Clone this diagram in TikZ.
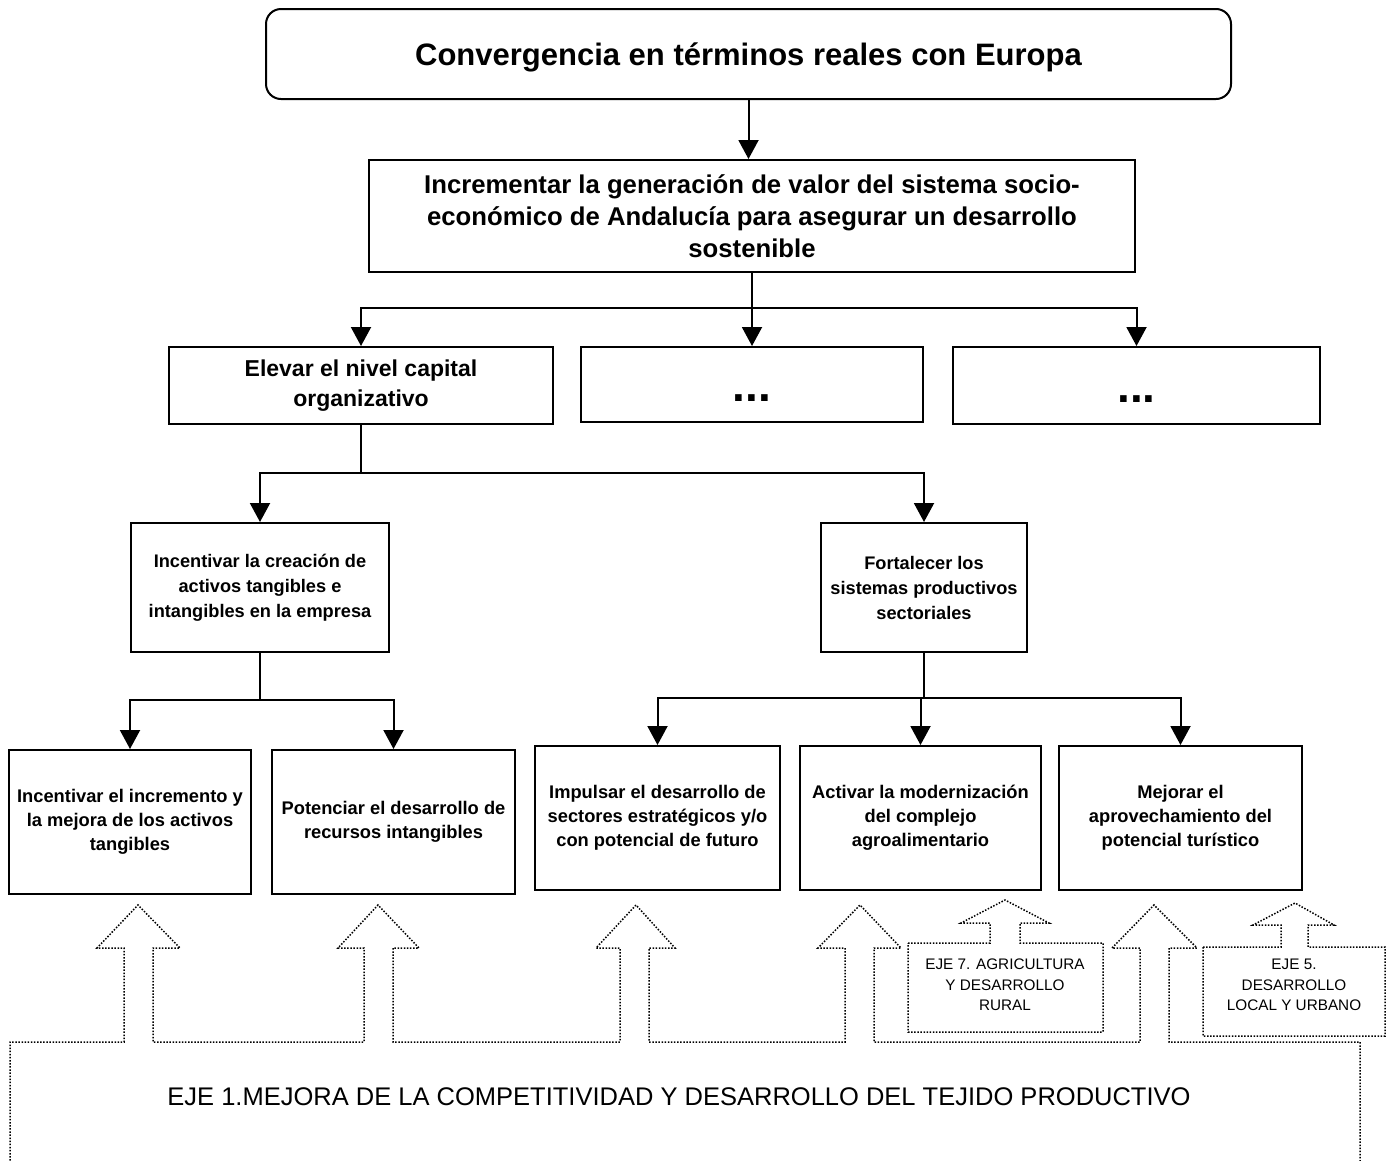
\documentclass[tikz,border=0pt]{standalone}
\usepackage{fontspec}
\setmainfont{Liberation Sans}
\usetikzlibrary{arrows.meta}
\begin{document}
\begin{tikzpicture}[x=1pt,y=-1pt,
  box/.style={draw, line width=2pt, inner sep=0pt, align=center},
  ln/.style={line width=2pt},
  arr/.style={line width=2pt, -{Triangle[width=20pt,length=19pt]}},
  dotline/.style={line width=1.5pt, dash pattern=on 1.5pt off 1.6pt},
  ftitle/.style={font=\bfseries\fontsize{31}{36}\selectfont},
  fbig/.style={font=\bfseries\fontsize{25.7}{32}\selectfont},
  fmid/.style={font=\bfseries\fontsize{23}{30}\selectfont},
  fsmall/.style={font=\bfseries\fontsize{18.2}{25}\selectfont},
  fbot/.style={font=\bfseries\fontsize{18.3}{24}\selectfont},
  feje/.style={font=\fontsize{15.3}{20.5}\selectfont, align=center},
  fdots/.style={font=\bfseries\fontsize{46}{46}\selectfont}]
\useasboundingbox (0,0) rectangle (1391,1160);

% nodes
\node[box, rounded corners=15pt, minimum width=965pt, minimum height=90pt, text depth=0pt, ftitle] (top) at (748.5,54) {Convergencia en términos reales con Europa};
\node[box, minimum width=766pt, minimum height=112pt, fbig] (g) at (752,216) {Incrementar la generación de valor del sistema socio-\\económico de Andalucía para asegurar un desarrollo\\sostenible};
\node[box, minimum width=384pt, minimum height=77pt, fmid] (L1) at (361,385.5) {Elevar el nivel capital\\organizativo};
\node[box, minimum width=342pt, minimum height=75pt, fdots] (M1) at (752,384.5) {\smash{\raisebox{-17pt}{...}}};
\node[box, minimum width=367pt, minimum height=77pt, fdots] (R1) at (1136.5,385.5) {\smash{\raisebox{-17pt}{...}}};
\node[box, minimum width=258pt, minimum height=129pt, fsmall] (L2) at (260,587.5) {Incentivar la creación de\\activos tangibles e\\intangibles en la empresa};
\node[box, minimum width=206pt, minimum height=129pt, fsmall] (R2) at (924,587.5) {Fortalecer los\\sistemas productivos\\sectoriales};
\node[box, minimum width=242pt, minimum height=144pt, fbot] (B1) at (130,822) {Incentivar el incremento y\\la mejora de los activos\\tangibles};
\node[box, minimum width=243pt, minimum height=144pt, fbot] (B2) at (393.5,822) {Potenciar el desarrollo de\\recursos intangibles};
\node[box, minimum width=245pt, minimum height=144pt, fbot] (B3) at (657.5,818) {Impulsar el desarrollo de\\sectores estratégicos y/o\\con potencial de futuro};
\node[box, minimum width=241pt, minimum height=144pt, fbot] (B4) at (920.5,818) {Activar la modernización\\del complejo\\agroalimentario};
\node[box, minimum width=243pt, minimum height=144pt, fbot] (B5) at (1180.5,818) {Mejorar el\\aprovechamiento del\\potencial turístico};

% junction levels
\coordinate (j1) at (752,308);
\coordinate (j2) at (361,473);
\coordinate (j3) at (260,700);
\coordinate (j4) at (924,698);

% connectors
\draw[arr] (top.south) -- (top.south |- g.north);
\draw[ln] (g.south) -- (g.south |- j1);
\draw[arr] (g.south |- j1) -| (L1.north);
\draw[arr] (g.south |- j1) -| (R1.north);
\draw[arr] (g.south |- j1) -- (M1.north);

\draw[ln] (L1.south) -- (L1.south |- j2);
\draw[arr] (L1.south |- j2) -| (L2.north);
\draw[arr] (L1.south |- j2) -| (R2.north);

\draw[ln] (L2.south) -- (L2.south |- j3);
\draw[arr] (L2.south |- j3) -| (B1.north);
\draw[arr] (L2.south |- j3) -| (B2.north);

\draw[ln] (R2.south) -- (R2.south |- j4);
\draw[arr] (R2.south |- j4) -| (B3.north);
\draw[arr] (R2.south |- j4) -| (B4.north);
\draw[arr] (R2.south |- j4) -| (B5.north);

% dotted outline of EJE 1 with five block arrows
\draw[dotline] (10,1170) -- (10,1042)
  -- (124,1042) -- (124,948) -- (97,948) -- (138,905) -- (180,948) -- (153,948) -- (153,1042)
  -- (364,1042) -- (364,948) -- (338,948) -- (378,905) -- (419,948) -- (393,948) -- (393,1042)
  -- (620,1042) -- (620,948) -- (596,948) -- (636,905) -- (675,948) -- (649,948) -- (649,1042)
  -- (845,1042) -- (845,948) -- (818,948) -- (860,905) -- (901,948) -- (874,948) -- (874,1042)
  -- (1140,1042) -- (1140,948) -- (1112,948) -- (1154,905) -- (1197,948) -- (1169,948) -- (1169,1042)
  -- (1360,1042) -- (1360,1170);
\node[font=\fontsize{25.5}{30}\selectfont] (eje1) at (679,1097) {EJE 1.MEJORA DE LA COMPETITIVIDAD Y DESARROLLO DEL TEJIDO PRODUCTIVO};

% EJE 7
\draw[dotline] (908,943) -- (990,943) -- (990,923) -- (961,923) -- (1005,900) -- (1049,923) -- (1020,923) -- (1020,943) -- (1103,943) -- (1103,1032) -- (908,1032) -- cycle;
\node[feje] (eje7) at (1005,985) {EJE 7. AGRICULTURA\\Y DESARROLLO\\RURAL};

% EJE 5
\draw[dotline] (1203,947) -- (1281,947) -- (1281,925) -- (1253,925) -- (1295,903) -- (1334,925) -- (1308,925) -- (1308,947) -- (1385,947) -- (1385,1036) -- (1203,1036) -- cycle;
\node[feje] (eje5) at (1294,985) {EJE 5.\\DESARROLLO\\LOCAL Y URBANO};
\end{tikzpicture}
\end{document}
